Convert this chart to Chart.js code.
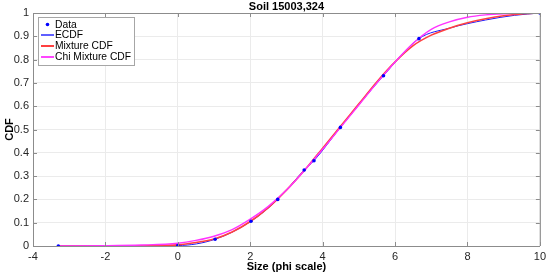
<!DOCTYPE html>
<html>
<head>
<meta charset="utf-8">
<script src="https://cdn.jsdelivr.net/npm/chart.js@4.4.1/dist/chart.umd.min.js"></script>
<style>
  html, body { margin: 0; padding: 0; background: #ffffff; }
  #wrap { width: 550px; height: 275px; }
</style>
</head>
<body>
<div id="wrap"><canvas id="cdfChart" width="550" height="275"></canvas></div>
<script>
// measured data points
const dataX = [-3.3, 0, 1.03, 2.02, 2.76, 3.49, 3.76, 4.49, 5.68, 6.66, 10];
const dataY = [0, 0.002, 0.029, 0.106, 0.2, 0.326, 0.366, 0.509, 0.731, 0.89, 1];

// ECDF curve (follows the points, smooth at the top)
const ecdfX = [-3.3, 0, 1.03, 2.02, 2.76, 3.49, 3.76, 4.49, 5.68, 6.66, 7.5, 8.5, 9.3, 10];
const ecdfY = [0, 0.002, 0.029, 0.106, 0.2, 0.326, 0.366, 0.509, 0.731, 0.89, 0.935, 0.97, 0.99, 1];

// fitted curves
const curveX = [-3.3, -2, -1, 0, 0.5, 1, 1.5, 2, 2.5, 3, 3.5, 4, 4.5, 5, 5.5, 6, 6.5, 7, 7.5, 8, 8.5, 9, 9.5, 10];
const mixY = [0, 0, 0.001, 0.005, 0.015, 0.03, 0.06, 0.105, 0.165, 0.24, 0.325, 0.42, 0.515, 0.61, 0.705, 0.79, 0.86, 0.905, 0.935, 0.958, 0.975, 0.988, 0.996, 1];
const chiY = [0, 0.001, 0.004, 0.012, 0.024, 0.042, 0.07, 0.115, 0.17, 0.24, 0.325, 0.415, 0.51, 0.605, 0.7, 0.79, 0.87, 0.93, 0.962, 0.982, 0.992, 0.997, 0.999, 1];

const xTicks = [-4, -2, 0, 2, 4, 6, 8, 10];
const chartTitle = "Soil 15003,324";
const xTitle = "Size (phi scale)";
const yTitle = "CDF";
const seriesNames = ["Data", "ECDF", "Mixture CDF", "Chi Mixture CDF"];

function pts(xs, ys) {
  return xs.map((x, i) => ({ x: x, y: ys[i] }));
}

const FONT = "'Liberation Sans', Arial, sans-serif";
const AXIS_COL = "#8c8c8c";

// titles, box, inner ticks, legend
const extrasPlugin = {
  id: "extras",
  afterDraw(chart) {
    const ctx = chart.ctx;
    const a = chart.chartArea;
    const xs = chart.scales.x, ys = chart.scales.y;
    ctx.save();

    // box top/right
    ctx.strokeStyle = AXIS_COL;
    ctx.lineWidth = 1;
    ctx.beginPath();
    ctx.moveTo(a.left, a.top + 0.5);
    ctx.lineTo(a.right + 0.5, a.top + 0.5);
    ctx.lineTo(a.right + 0.5, a.bottom);
    ctx.stroke();

    // inward ticks
    ctx.beginPath();
    xs.ticks.forEach(t => {
      const px = Math.round(xs.getPixelForValue(t.value)) + 0.5;
      ctx.moveTo(px, a.bottom); ctx.lineTo(px, a.bottom - 4);
      ctx.moveTo(px, a.top); ctx.lineTo(px, a.top + 4);
    });
    ys.ticks.forEach(t => {
      const py = Math.round(ys.getPixelForValue(t.value)) + 0.5;
      ctx.moveTo(a.left, py); ctx.lineTo(a.left + 4, py);
      ctx.moveTo(a.right, py); ctx.lineTo(a.right - 4, py);
    });
    ctx.stroke();

    // titles
    ctx.fillStyle = "#000000";
    ctx.font = "bold 11px " + FONT;
    ctx.textAlign = "center";
    ctx.textBaseline = "middle";
    const cx = (a.left + a.right) / 2;
    ctx.fillText(chartTitle, cx, 7);
    ctx.fillText(xTitle, cx, 267);
    ctx.save();
    ctx.translate(10, (a.top + a.bottom) / 2);
    ctx.rotate(-Math.PI / 2);
    ctx.fillText(yTitle, 0, 0);
    ctx.restore();

    // legend
    const lx = 38, ly = 17, lw = 96, lh = 48;
    ctx.fillStyle = "#ffffff";
    ctx.fillRect(lx, ly, lw, lh);
    ctx.strokeStyle = "#a6a6a6";
    ctx.lineWidth = 1;
    ctx.strokeRect(lx + 0.5, ly + 0.5, lw, lh);
    ctx.font = "10.3px " + FONT;
    ctx.textAlign = "left";
    const rows = [24.5, 35, 46, 57];
    chart.data.datasets.forEach((ds, i) => {
      const y = rows[i];
      if (i === 0) {
        ctx.fillStyle = ds.pointBackgroundColor;
        ctx.beginPath();
        ctx.arc(47.5, y, 1.8, 0, Math.PI * 2);
        ctx.fill();
      } else {
        ctx.strokeStyle = ds.borderColor;
        ctx.lineWidth = ds.borderWidth + 0.4;
        ctx.beginPath();
        ctx.moveTo(41, y); ctx.lineTo(54, y);
        ctx.stroke();
      }
      ctx.fillStyle = "#000000";
      ctx.fillText(ds.label, 55, y + 0.5);
    });
    ctx.restore();
  }
};

new Chart(document.getElementById("cdfChart"), {
  type: "scatter",
  data: {
    datasets: [
      {
        label: seriesNames[0],
        data: pts(dataX, dataY),
        showLine: false,
        pointRadius: 1.8,
        pointBackgroundColor: "#0000ff",
        pointBorderWidth: 0,
        order: 0
      },
      {
        label: seriesNames[1],
        data: pts(ecdfX, ecdfY),
        showLine: true,
        borderColor: "#1a1aff",
        borderWidth: 1,
        pointRadius: 0,
        cubicInterpolationMode: "monotone",
        order: 3
      },
      {
        label: seriesNames[2],
        data: pts(curveX, mixY),
        showLine: true,
        borderColor: "#ff4040",
        borderWidth: 1.6,
        pointRadius: 0,
        cubicInterpolationMode: "monotone",
        order: 2
      },
      {
        label: seriesNames[3],
        data: pts(curveX, chiY),
        showLine: true,
        borderColor: "#ff33ff",
        borderWidth: 1.4,
        pointRadius: 0,
        cubicInterpolationMode: "monotone",
        order: 1
      }
    ]
  },
  options: {
    responsive: false,
    animation: false,
    layout: { padding: { top: 13, right: 10, left: 0, bottom: 0 } },
    plugins: {
      legend: { display: false },
      tooltip: { enabled: false },
      title: { display: false }
    },
    scales: {
      x: {
        type: "linear",
        min: -4,
        max: 10,
        afterBuildTicks: s => { s.ticks = xTicks.map(v => ({ value: v })); },
        afterFit: s => { s.height = 29; },
        grid: { color: "#ebebeb", drawTicks: false },
        border: { color: AXIS_COL },
        ticks: {
          padding: 4,
          color: "#262626",
          font: { family: FONT, size: 11 },
          maxRotation: 0
        }
      },
      y: {
        min: 0,
        max: 1,
        afterFit: s => { s.width = 33; },
        grid: { color: "#ebebeb", drawTicks: false },
        border: { color: AXIS_COL },
        ticks: {
          stepSize: 0.1,
          padding: 4,
          color: "#262626",
          font: { family: FONT, size: 11 },
          callback: v => Math.round(v * 10) / 10
        }
      }
    }
  },
  plugins: [extrasPlugin]
});
</script>
</body>
</html>
